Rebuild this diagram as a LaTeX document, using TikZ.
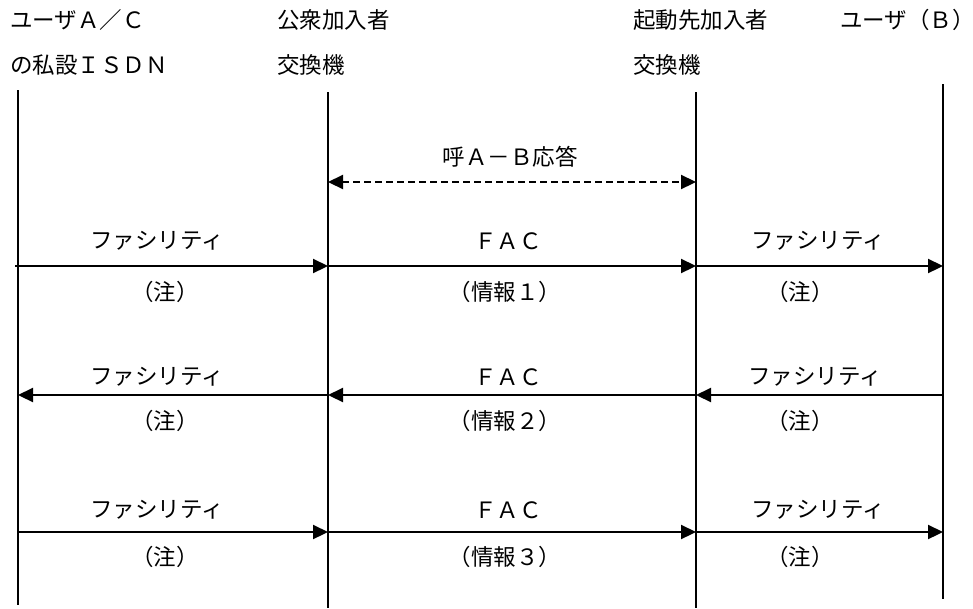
\documentclass[tikz,border=0pt]{standalone}
\usepackage{fontspec}
\newfontfamily\jp{Noto Sans CJK JP}
\usetikzlibrary{arrows.meta}
\begin{document}
\begin{tikzpicture}[x=1pt,y=-1pt,
  hdr/.style={font=\jp\fontsize{22.5}{26}\selectfont, inner sep=0pt, anchor=west},
  lbl/.style={font=\jp\fontsize{22.5}{26}\selectfont, inner sep=0pt},
  life/.style={line width=2.2pt},
  msg/.style={line width=2.2pt,-{Triangle[length=15pt,width=14pt]}},
  dmsg/.style={line width=2.2pt,dash pattern=on 7pt off 4pt,{Triangle[length=15pt,width=14pt]}-{Triangle[length=15pt,width=14pt]}}
]
\useasboundingbox (0,0) rectangle (973,608);
% headers
\node[hdr] (h1a) at (10,20) {ユーザＡ／Ｃ};
\node[hdr] (h1b) at (10,65) {の私設ＩＳＤＮ};
\node[hdr] (h2a) at (277,20) {公衆加入者};
\node[hdr] (h2b) at (277,65) {交換機};
\node[hdr] (h3a) at (633,20) {起動先加入者};
\node[hdr] (h3b) at (633,65) {交換機};
\node[hdr] (h4a) at (840,20) {ユーザ（Ｂ）};
% lifelines
\coordinate (t1) at (18,90);  \coordinate (b1) at (18,605);
\coordinate (t2) at (328,92); \coordinate (b2) at (328,608);
\coordinate (t3) at (696,92); \coordinate (b3) at (696,608);
\coordinate (t4) at (943,84); \coordinate (b4) at (943,599);
\draw[life] (t1) -- (b1);
\draw[life] (t2) -- (b2);
\draw[life] (t3) -- (b3);
\draw[life] (t4) -- (b4);
% answer
\coordinate (d2) at (328,182); \coordinate (d3) at (696,182);
\draw[dmsg] (d2) -- (d3);
\node[lbl] (ans) at (510,157) {呼Ａ－Ｂ応答};
% row 1
\coordinate (r1s) at (15,266);
\coordinate (r1b) at (328,266);
\coordinate (r1c) at (696,266);
\coordinate (r1d) at (943,266);
\draw[msg] (r1s) -- (r1b);
\draw[msg] (r1b) -- (r1c);
\draw[msg] (r1c) -- (r1d);
\node[lbl] (l11) at (157,241) {ファシリティ};
\node[lbl] (l12) at (508,241) {ＦＡＣ};
\node[lbl] (l13) at (818,241) {ファシリティ};
\node[lbl] (n11) at (165,292) {（注）};
\node[lbl] (n12) at (505,292) {（情報１）};
\node[lbl] (n13) at (800,292) {（注）};
% row 2
\coordinate (r2a) at (18,395);
\coordinate (r2b) at (328,395);
\coordinate (r2c) at (696,395);
\coordinate (r2d) at (943,395);
\draw[msg] (r2d) -- (r2c);
\draw[msg] (r2c) -- (r2b);
\draw[msg] (r2b) -- (r2a);
\node[lbl] (l21) at (157,377) {ファシリティ};
\node[lbl] (l22) at (508,377) {ＦＡＣ};
\node[lbl] (l23) at (815,377) {ファシリティ};
\node[lbl] (n21) at (165,421) {（注）};
\node[lbl] (n22) at (505,421) {（情報２）};
\node[lbl] (n23) at (800,421) {（注）};
% row 3
\coordinate (r3a) at (18,532);
\coordinate (r3b) at (328,532);
\coordinate (r3c) at (696,532);
\coordinate (r3d) at (943,532);
\draw[msg] (r3a) -- (r3b);
\draw[msg] (r3b) -- (r3c);
\draw[msg] (r3c) -- (r3d);
\node[lbl] (l31) at (157,510) {ファシリティ};
\node[lbl] (l32) at (508,510) {ＦＡＣ};
\node[lbl] (l33) at (818,510) {ファシリティ};
\node[lbl] (n31) at (165,557) {（注）};
\node[lbl] (n32) at (505,557) {（情報３）};
\node[lbl] (n33) at (800,557) {（注）};
\end{tikzpicture}
\end{document}
